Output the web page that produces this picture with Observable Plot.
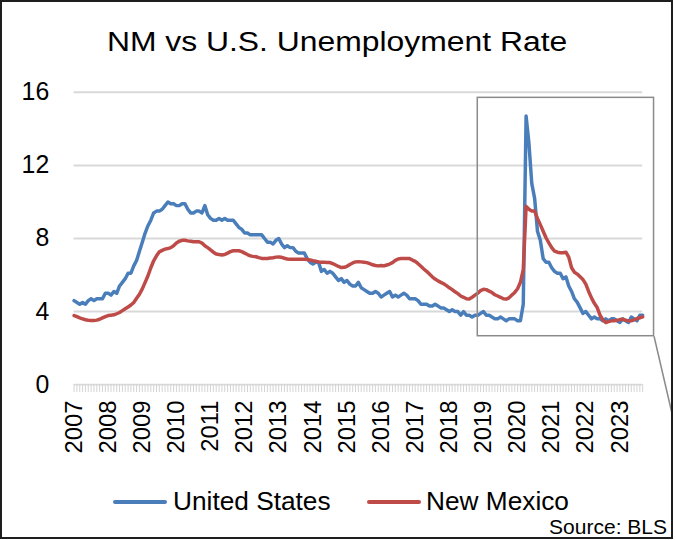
<!DOCTYPE html>
<html>
<head>
<meta charset="utf-8">
<script src="https://cdn.jsdelivr.net/npm/d3@7"></script>
<script src="https://cdn.jsdelivr.net/npm/@observablehq/plot@0.6"></script>
<style>
  html, body { margin: 0; padding: 0; background: #fff; }
  #frame {
    position: relative; width: 673px; height: 539px; box-sizing: border-box;
    border: 2px solid #1e1e1e; overflow: hidden; background: #fff;
    font-family: "Liberation Sans", Arial, sans-serif; color: #000;
  }
  .txt { position: absolute; white-space: nowrap; line-height: 1; }
  #title { left: 0; width: 671px; text-align: center; top: 27px; font-size: 27px; }
  #title span { display: inline-block; transform: scaleX(1.18); }
  #chart { position: absolute; left: -2px; top: 68px; }
  .swatch { position: absolute; height: 4px; border-radius: 2px; }
  .leg { font-size: 25px; transform-origin: left center; transform: scaleX(1.05); }
  #source { font-size: 21px; right: 4px; top: 514px; }
</style>
</head>
<body>
<div id="frame">
  <div id="title" class="txt"><span>NM vs U.S. Unemployment Rate</span></div>
  <div id="chart"></div>
  <div class="swatch" style="left:111px; top:498px; width:54px; background:#4a7ebb;"></div>
  <div class="txt leg" style="left:171px; top:487px;">United States</div>
  <div class="swatch" style="left:365px; top:498px; width:54px; background:#be4b48;"></div>
  <div class="txt leg" style="left:424px; top:487px;">New Mexico</div>
  <div id="source" class="txt">Source: BLS</div>
</div>
<script>
// Monthly unemployment rate (%), January 2007 through September 2023
const startYear = 2007;

const usRate = [
  4.6, 4.5, 4.4, 4.5, 4.4, 4.6, 4.7, 4.6, 4.7, 4.7, 4.7, 5.0,
  5.0, 4.9, 5.1, 5.0, 5.4, 5.6, 5.8, 6.1, 6.1, 6.5, 6.8, 7.3,
  7.8, 8.3, 8.7, 9.0, 9.4, 9.5, 9.5, 9.6, 9.8, 10.0, 9.9, 9.9,
  9.8, 9.8, 9.9, 9.9, 9.6, 9.4, 9.4, 9.5, 9.5, 9.4, 9.8, 9.3,
  9.1, 9.0, 9.0, 9.1, 9.0, 9.1, 9.0, 9.0, 9.0, 8.8, 8.6, 8.5,
  8.3, 8.3, 8.2, 8.2, 8.2, 8.2, 8.2, 8.0, 7.8, 7.8, 7.7, 7.9,
  8.0, 7.7, 7.5, 7.6, 7.5, 7.5, 7.3, 7.2, 7.2, 7.2, 6.9, 6.7,
  6.6, 6.7, 6.7, 6.2, 6.3, 6.1, 6.2, 6.1, 5.9, 5.7, 5.8, 5.6,
  5.7, 5.5, 5.4, 5.4, 5.6, 5.3, 5.2, 5.1, 5.0, 5.0, 5.1, 5.0,
  4.8, 4.9, 5.0, 5.1, 4.8, 4.9, 4.8, 4.9, 5.0, 4.9, 4.7, 4.7,
  4.7, 4.6, 4.4, 4.4, 4.4, 4.3, 4.3, 4.4, 4.3, 4.2, 4.2, 4.1,
  4.0, 4.1, 4.0, 4.0, 3.8, 4.0, 3.8, 3.8, 3.7, 3.8, 3.8, 3.9,
  4.0, 3.8, 3.8, 3.7, 3.6, 3.6, 3.7, 3.6, 3.5, 3.6, 3.6, 3.6,
  3.5, 3.5, 4.4, 14.7, 13.2, 11.0, 10.2, 8.4, 7.9, 6.9, 6.7, 6.7,
  6.4, 6.2, 6.1, 6.1, 5.8, 5.9, 5.4, 5.1, 4.7, 4.5, 4.2, 3.9,
  4.0, 3.8, 3.6, 3.7, 3.6, 3.6, 3.5, 3.6, 3.5, 3.6, 3.6, 3.5,
  3.4, 3.6, 3.5, 3.4, 3.7, 3.6, 3.5, 3.8, 3.8
];

const nmRate = [
  3.78, 3.72, 3.65, 3.6, 3.55, 3.52, 3.51, 3.51, 3.53, 3.58, 3.65, 3.72,
  3.78, 3.8, 3.82, 3.88, 3.95, 4.05, 4.15, 4.25, 4.36, 4.5, 4.73, 4.95,
  5.24, 5.6, 5.96, 6.4, 6.78, 7.05, 7.27, 7.35, 7.42, 7.45, 7.5, 7.6,
  7.75, 7.85, 7.9, 7.9, 7.87, 7.85, 7.82, 7.82, 7.82, 7.75, 7.6, 7.5,
  7.38, 7.25, 7.15, 7.12, 7.1, 7.12, 7.2, 7.28, 7.33, 7.33, 7.33, 7.28,
  7.2, 7.12, 7.05, 7.02, 7.0, 6.95, 6.91, 6.91, 6.91, 6.93, 6.95, 6.98,
  6.99, 6.97, 6.92, 6.88, 6.86, 6.86, 6.86, 6.86, 6.86, 6.86, 6.85, 6.82,
  6.78, 6.75, 6.72, 6.7, 6.7, 6.69, 6.68, 6.62, 6.55, 6.47, 6.41, 6.42,
  6.48, 6.58, 6.66, 6.72, 6.73, 6.72, 6.7, 6.68, 6.62, 6.56, 6.52, 6.5,
  6.52, 6.5, 6.55, 6.6, 6.68, 6.8, 6.88, 6.9, 6.9, 6.9, 6.9, 6.82,
  6.75, 6.62, 6.48, 6.33, 6.2, 6.05, 5.9, 5.78, 5.68, 5.6, 5.52, 5.42,
  5.3, 5.2, 5.08, 4.98, 4.85, 4.78, 4.7, 4.69, 4.78, 4.9, 5.0, 5.15,
  5.22, 5.2, 5.12, 5.04, 4.92, 4.85, 4.78, 4.7, 4.68, 4.75, 4.9, 5.05,
  5.25, 5.6, 6.3, 9.76, 9.6, 9.5, 9.5, 9.1, 8.76, 8.4, 8.04, 7.76,
  7.5, 7.31, 7.25, 7.22, 7.22, 7.25, 6.98, 6.4, 6.15, 6.05, 5.9, 5.75,
  5.5, 5.1, 4.75, 4.45, 4.22, 3.8, 3.55, 3.4, 3.45, 3.49, 3.49, 3.52,
  3.56, 3.58, 3.52, 3.49, 3.49, 3.55, 3.62, 3.66, 3.71
];

const yTicks = [0, 4, 8, 12, 16];
const yearLabels = [2007, 2008, 2009, 2010, 2011, 2012, 2013, 2014, 2015,
                    2016, 2017, 2018, 2019, 2020, 2021, 2022, 2023];

// Highlighted pandemic window (month index from Jan 2007, rate range)
const focusWindow = [{ m1: 142, m2: 204, r1: 2.65, r2: 15.7, mOut: 210.8, rOut: -1.9 }];

const toRows = (values) => values.map((rate, month) => ({ month, rate }));
const usRows = toRows(usRate);
const nmRows = toRows(nmRate);
const lastMonth = usRate.length - 1;
const monthTicks = d3.range(0, lastMonth + 1);
const yearTicks = yearLabels.map((y) => (y - startYear) * 12);

const chart = Plot.plot({
  width: 675,
  height: 400,
  marginTop: 22,
  marginBottom: 84,
  marginLeft: 74,
  marginRight: 29,
  x: { domain: [0, lastMonth] },
  y: { domain: [0, 16] },
  style: {
    fontFamily: "'Liberation Sans', Arial, sans-serif",
    fontSize: "25px",
    color: "#000",
    background: "transparent",
    overflow: "visible"
  },
  marks: [
    Plot.gridY(yTicks, { stroke: "#d9d9d9", strokeOpacity: 1, strokeWidth: 2 }),
    Plot.axisY(yTicks, { tickSize: 0, tickPadding: 25, fontSize: 25, label: null }),
    Plot.axisX(monthTicks, { tickSize: 8, tickFormat: () => "", stroke: "#d4d4d4", label: null }),
    Plot.axisX(yearTicks, {
      tickSize: 0, tickPadding: 16, tickRotate: -90, fontSize: 24, label: null,
      tickFormat: (m) => String(startYear + m / 12)
    }),
    Plot.lineY(usRows, { x: "month", y: "rate", stroke: "#4a7ebb", strokeWidth: 3.5 }),
    Plot.lineY(nmRows, { x: "month", y: "rate", stroke: "#be4b48", strokeWidth: 3.5 }),
    Plot.rect(focusWindow, { x1: "m1", x2: "m2", y1: "r1", y2: "r2", fill: "none", stroke: "#8a8a8a", strokeWidth: 1.5 }),
    Plot.link(focusWindow, { x1: "m2", y1: "r1", x2: "mOut", y2: "rOut", stroke: "#8a8a8a", strokeWidth: 1.5 })
  ]
});
document.getElementById("chart").appendChild(chart);
</script>
</body>
</html>
